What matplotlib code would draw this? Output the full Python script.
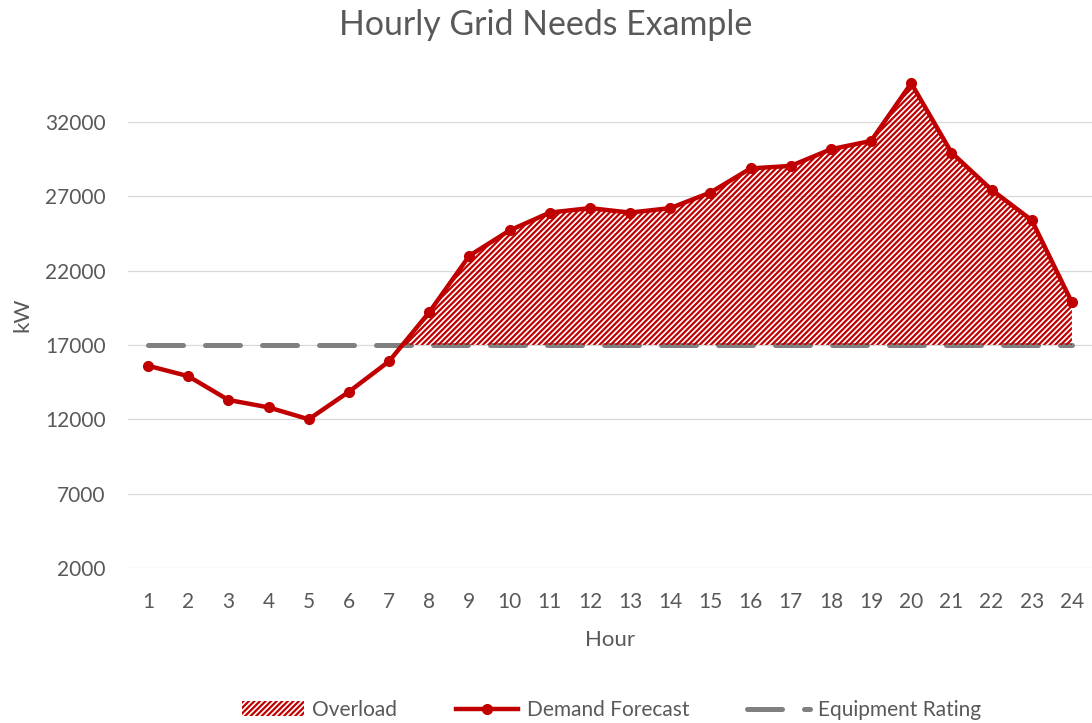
import numpy as np
import matplotlib
matplotlib.use("Agg")
import matplotlib.pyplot as plt

# Datos
hours = np.arange(1, 25)
demand_forecast = np.array([
    15600, 14900, 13300, 12800, 12000, 13850, 15900, 19200,
    23000, 24700, 25900, 26200, 25900, 26200, 27250, 28870,
    29040, 30160, 30720, 34600, 29940, 27430, 25390, 19860,
])
equipment_rating = np.full(24, 17000)
y_ticks = [2000, 7000, 12000, 17000, 22000, 27000, 32000]

RED = "#C00000"
GRAY = "#808080"
TEXT = "#595959"
GRID = "#D9D9D9"

plt.rcParams["font.family"] = ["Lato", "DejaVu Sans"]
plt.rcParams["hatch.linewidth"] = 1.6

fig = plt.figure(figsize=(10.92, 7.23), dpi=100)
ax = fig.add_axes([0.1172, 0.2144, 0.8828, 0.6993])

# Línea de capacidad del equipo
ax.plot(hours, equipment_rating, color=GRAY, lw=3.6, ls=(0, (7, 4.4)),
        dash_capstyle="round", zorder=1, label="Equipment Rating")

# Zona de sobrecarga
overload = ax.fill_between(hours, demand_forecast, equipment_rating,
                           where=demand_forecast > equipment_rating,
                           interpolate=True, facecolor="none",
                           edgecolor=RED, hatch="//////", linewidth=0,
                           zorder=2, label="Overload")

# Pronóstico de demanda
ax.plot(hours, demand_forecast, color=RED, lw=3.2, marker="o", markersize=7,
        zorder=3, label="Demand Forecast")

ax.set_xlim(0.5, 24.5)
ax.set_ylim(2000, 36000)
ax.set_xticks(hours)
ax.set_yticks(y_ticks)
ax.tick_params(axis="both", length=0, labelsize=15, labelcolor=TEXT)
ax.tick_params(axis="y", pad=16)
ax.tick_params(axis="x", pad=17)
ax.grid(axis="y", color=GRID, lw=0.9)
ax.set_axisbelow(True)
for s in ax.spines.values():
    s.set_visible(False)

ax.set_xlabel("Hour", fontsize=16, color=TEXT, labelpad=13)
ax.set_ylabel("kW", fontsize=16, color=TEXT, labelpad=9.5)
fig.suptitle("Hourly Grid Needs Example", fontsize=24.4, color=TEXT,
             x=0.5, y=0.988, va="top")

handles, labels = ax.get_legend_handles_labels()
order = [labels.index("Overload"), labels.index("Demand Forecast"),
         labels.index("Equipment Rating")]
fig.legend([handles[i] for i in order], [labels[i] for i in order],
           loc="center", bbox_to_anchor=(0.56, 0.018), ncol=3, frameon=False,
           fontsize=15, labelcolor=TEXT, handlelength=3.0, columnspacing=2.8,
           handletextpad=0.4)

fig.savefig("out.png", dpi=100)
